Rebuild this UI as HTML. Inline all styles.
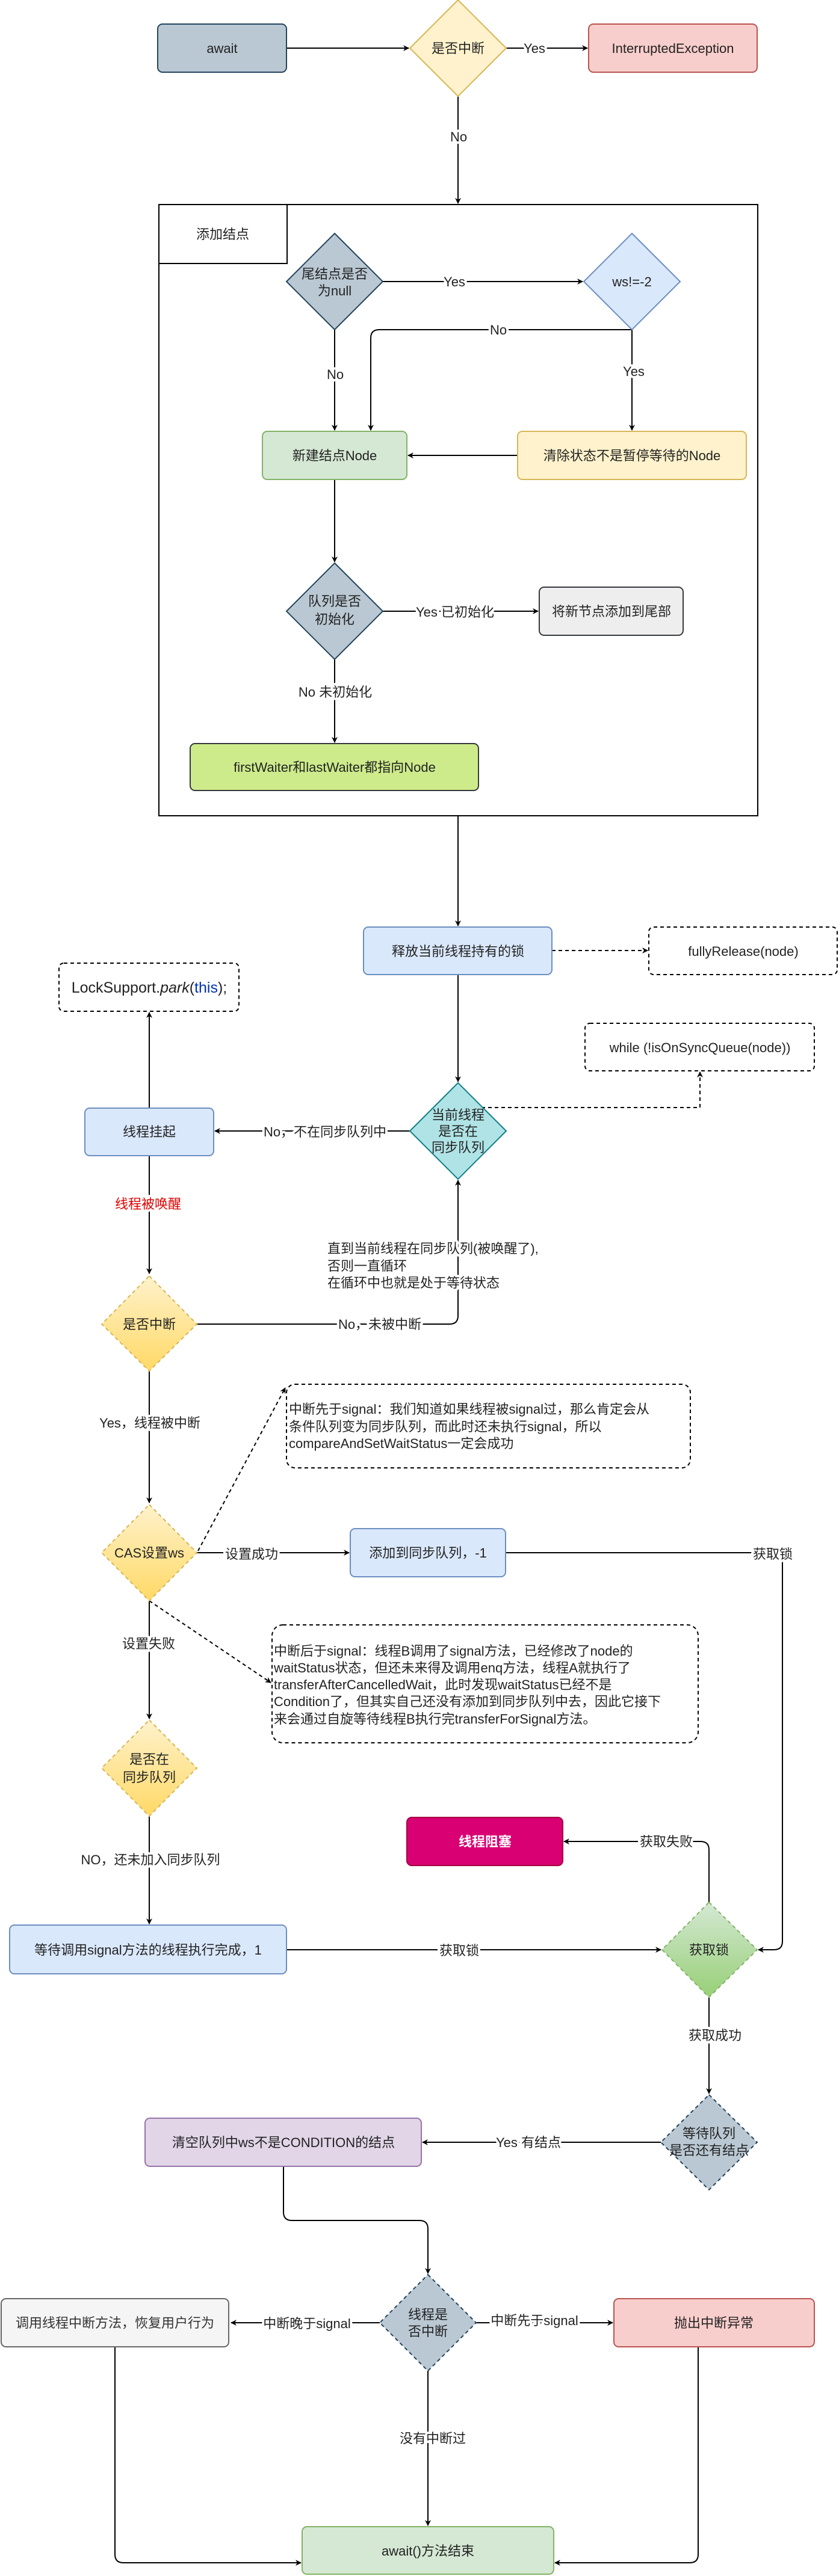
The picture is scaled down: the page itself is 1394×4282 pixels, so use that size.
<!DOCTYPE html>
<html><head><meta charset="utf-8"><style>
html,body{margin:0;padding:0;background:#fff;}
svg{display:block;}
text{font-family:"Liberation Sans","Noto Sans CJK SC",sans-serif;font-size:22px;fill:#222;}
.l{paint-order:stroke;stroke:#fff;stroke-width:8px;stroke-linejoin:round;}
</style></head><body>
<svg width="1394" height="4282" viewBox="0 0 1394 4282" xmlns="http://www.w3.org/2000/svg">
<defs>
<marker id="a" markerWidth="10" markerHeight="10" refX="9" refY="5" orient="auto" markerUnits="userSpaceOnUse"><path d="M0,0 L10,5 L0,10 L3,5 z" fill="#000"/></marker>
<linearGradient id="gy" x1="0" y1="0" x2="0" y2="1"><stop offset="0" stop-color="#fff2cc"/><stop offset="1" stop-color="#ffd966"/></linearGradient>
<linearGradient id="gg" x1="0" y1="0" x2="0" y2="1"><stop offset="0" stop-color="#d5e8d4"/><stop offset="1" stop-color="#97d077"/></linearGradient>
</defs>
<g fill="none" stroke="#000" stroke-width="2">
<path d="M476,80 H679" marker-end="url(#a)"/>
<path d="M841,80 H976" marker-end="url(#a)"/>
<path d="M761,160 V338" marker-end="url(#a)"/>
<path d="M636,468 H968" marker-end="url(#a)"/>
<path d="M1050,548 V715" marker-end="url(#a)"/>
<path d="M1050,548 H630 Q616,548 616,562 V715" marker-end="url(#a)"/>
<path d="M556,548 V715" marker-end="url(#a)"/>
<path d="M860,757 H678" marker-end="url(#a)"/>
<path d="M556,797 V934" marker-end="url(#a)"/>
<path d="M636,1016 H894" marker-end="url(#a)"/>
<path d="M556,1096 V1234" marker-end="url(#a)"/>
<path d="M761,1356 V1539" marker-end="url(#a)"/>
<path d="M917,1580 H1076" stroke-dasharray="6,5" marker-end="url(#a)"/>
<path d="M761,1620 V1798" marker-end="url(#a)"/>
<path d="M800,1841 H1163 V1782" stroke-dasharray="6,5" marker-end="url(#a)"/>
<path d="M681,1880 H357" marker-end="url(#a)"/>
<path d="M248,1842 V1683" marker-end="url(#a)"/>
<path d="M248,1921 V2117" marker-end="url(#a)"/>
<path d="M326,2201 H747 Q761,2201 761,2187 V1962" marker-end="url(#a)"/>
<path d="M248,2278 V2498" marker-end="url(#a)"/>
<path d="M329,2578 L474,2307" stroke-dasharray="6,5" marker-end="url(#a)"/>
<path d="M327,2581 H580" marker-end="url(#a)"/>
<path d="M840,2581 H1300 V3227 Q1300,3241 1286,3241 H1260" marker-end="url(#a)"/>
<path d="M248,2661 V2857" marker-end="url(#a)"/>
<path d="M248,2661 L450,2797" stroke-dasharray="6,5" marker-end="url(#a)"/>
<path d="M248,3019 V3198" marker-end="url(#a)"/>
<path d="M476,3241 H1098" marker-end="url(#a)"/>
<path d="M1178,3162 V3075 Q1178,3061 1164,3061 H937" marker-end="url(#a)"/>
<path d="M1178,3320 V3480" marker-end="url(#a)"/>
<path d="M1098,3561 H702" marker-end="url(#a)"/>
<path d="M471,3601 V3677 Q471,3691 485,3691 H697 Q711,3691 711,3705 V3779" marker-end="url(#a)"/>
<path d="M631,3861 H384" marker-end="url(#a)"/>
<path d="M791,3861 H1018" marker-end="url(#a)"/>
<path d="M711,3941 V4198" marker-end="url(#a)"/>
<path d="M191,3901 V4246 Q191,4260 205,4260 H500" marker-end="url(#a)"/>
<path d="M1160,3901 V4246 Q1160,4260 1146,4260 H922" marker-end="url(#a)"/>
</g>
<rect x="264" y="340" width="995" height="1016" fill="none" stroke="#000" stroke-width="2"/>
<rect x="264" y="340" width="213" height="98" fill="#fff" stroke="#000" stroke-width="2"/>
<text x="370" y="397" text-anchor="middle">添加结点</text>
<g stroke-width="2">
<rect x="262" y="40" width="214" height="80" rx="8" fill="#bac8d3" stroke="#23445d"/>
<polygon points="761,0 841,80 761,160 681,80" fill="#fff2cc" stroke="#d6b656"/>
<rect x="978" y="40" width="280" height="80" rx="8" fill="#f8cecc" stroke="#b85450"/>
<polygon points="556,388 636,468 556,548 476,468" fill="#bac8d3" stroke="#23445d"/>
<polygon points="1050,388 1130,468 1050,548 970,468" fill="#dae8fc" stroke="#6c8ebf"/>
<rect x="436" y="717" width="240" height="80" rx="8" fill="#d5e8d4" stroke="#82b366"/>
<rect x="860" y="717" width="380" height="80" rx="8" fill="#fff2cc" stroke="#d6b656"/>
<polygon points="556,936 636,1016 556,1096 476,1016" fill="#bac8d3" stroke="#23445d"/>
<rect x="896" y="976" width="239" height="80" rx="8" fill="#eeeeee" stroke="#36393d"/>
<rect x="316" y="1236" width="479" height="78" rx="8" fill="#cdeb8b" stroke="#36393d"/>
<rect x="604" y="1541" width="313" height="79" rx="8" fill="#dae8fc" stroke="#6c8ebf"/>
<rect x="1078" y="1541" width="313" height="79" rx="8" fill="#fff" stroke="#000" stroke-dasharray="6,5"/>
<rect x="972" y="1701" width="381" height="79" rx="8" fill="#fff" stroke="#000" stroke-dasharray="6,5"/>
<rect x="98" y="1601" width="299" height="80" rx="8" fill="#fff" stroke="#000" stroke-dasharray="6,5"/>
<polygon points="761,1800 841,1880 761,1960 681,1880" fill="#b0e3e6" stroke="#0e8088"/>
<rect x="141" y="1842" width="214" height="79" rx="8" fill="#dae8fc" stroke="#6c8ebf"/>
<polygon points="248,2121 327,2201 248,2279 169,2201" fill="url(#gy)" stroke="#d6b656" stroke-dasharray="6,5"/>
<polygon points="248,2501 327,2581 248,2661 169,2581" fill="url(#gy)" stroke="#d6b656" stroke-dasharray="6,5"/>
<rect x="476" y="2301" width="671" height="139" rx="14" fill="#fff" stroke="#000" stroke-dasharray="6,5"/>
<rect x="582" y="2541" width="258" height="80" rx="8" fill="#dae8fc" stroke="#6c8ebf"/>
<rect x="452" y="2701" width="708" height="196" rx="18" fill="#fff" stroke="#000" stroke-dasharray="6,5"/>
<polygon points="248,2859 327,2939 248,3019 169,2939" fill="url(#gy)" stroke="#d6b656" stroke-dasharray="6,5"/>
<rect x="16" y="3200" width="460" height="81" rx="8" fill="#dae8fc" stroke="#6c8ebf"/>
<polygon points="1178,3162 1258,3241 1178,3320 1100,3241" fill="url(#gg)" stroke="#82b366" stroke-dasharray="6,5"/>
<rect x="676" y="3021" width="259" height="80" rx="8" fill="#d80073" stroke="#a50040"/>
<polygon points="1178,3482 1258,3561 1178,3640 1098,3561" fill="#bac8d3" stroke="#23445d" stroke-dasharray="6,5"/>
<rect x="241" y="3521" width="459" height="80" rx="8" fill="#e1d5e7" stroke="#9673a6"/>
<polygon points="711,3781 791,3861 711,3941 631,3861" fill="#bac8d3" stroke="#23445d" stroke-dasharray="6,5"/>
<rect x="2" y="3821" width="378" height="80" rx="8" fill="#f5f5f5" stroke="#666666"/>
<rect x="1020" y="3821" width="333" height="80" rx="8" fill="#f8cecc" stroke="#b85450"/>
<rect x="502" y="4200" width="418" height="79" rx="8" fill="#d5e8d4" stroke="#82b366"/>
</g>
<g text-anchor="middle">
<text x="369" y="88">await</text>
<text x="761" y="88">是否中断</text>
<text x="1118" y="88">InterruptedException</text>
<text x="556" y="463">尾结点是否</text><text x="556" y="491">为null</text>
<text x="1050" y="476">ws!=-2</text>
<text x="556" y="765">新建结点Node</text>
<text x="1050" y="765">清除状态不是暂停等待的Node</text>
<text x="556" y="1007">队列是否</text><text x="556" y="1037">初始化</text>
<text x="1016" y="1024">将新节点添加到尾部</text>
<text x="556" y="1283">firstWaiter和lastWaiter都指向Node</text>
<text x="761" y="1589">释放当前线程持有的锁</text>
<text x="1235" y="1589">fullyRelease(node)</text>
<text x="1163" y="1749">while (!isOnSyncQueue(node))</text>
<text x="248" y="1650" style="font-size:25px">LockSupport.<tspan font-style="italic">park</tspan>(<tspan fill="#0033b3">this</tspan>);</text>
<text x="761" y="1861">当前线程</text><text x="761" y="1888">是否在</text><text x="761" y="1915">同步队列</text>
<text x="248" y="1889">线程挂起</text>
<text x="248" y="2209">是否中断</text>
<text x="248" y="2589">CAS设置ws</text>
<text x="711" y="2589">添加到同步队列，-1</text>
<text x="248" y="2932">是否在</text><text x="248" y="2962">同步队列</text>
<text x="246" y="3249">等待调用signal方法的线程执行完成，1</text>
<text x="1178" y="3249">获取锁</text>
<text x="806" y="3069" style="fill:#fff;font-weight:bold">线程阻塞</text>
<text x="1178" y="3554">等待队列</text><text x="1178" y="3582">是否还有结点</text>
<text x="471" y="3569">清空队列中ws不是CONDITION的结点</text>
<text x="711" y="3855">线程是</text><text x="711" y="3883">否中断</text>
<text x="191" y="3869" style="fill:#333">调用线程中断方法，恢复用户行为</text>
<text x="1186" y="3869">抛出中断异常</text>
<text x="711" y="4248">await()方法结束</text>
</g>
<g style="font-size:20.5px">
<text x="480" y="2350">中断先于signal：我们知道如果线程被signal过，那么肯定会从</text>
<text x="480" y="2379">条件队列变为同步队列，而此时还未执行signal，所以</text>
<text x="480" y="2407">compareAndSetWaitStatus一定会成功</text>
<text x="455" y="2752">中断后于signal：线程B调用了signal方法，已经修改了node的</text>
<text x="455" y="2780">waitStatus状态，但还未来得及调用enq方法，线程A就执行了</text>
<text x="455" y="2808">transferAfterCancelledWait，此时发现waitStatus已经不是</text>
<text x="455" y="2836">Condition了，但其实自己还没有添加到同步队列中去，因此它接下</text>
<text x="455" y="2865">来会通过自旋等待线程B执行完transferForSignal方法。</text>
</g>
<g text-anchor="middle">
<text class="l" x="888" y="88">Yes</text>
<text class="l" x="762" y="235">No</text>
<text class="l" x="755" y="476">Yes</text>
<text class="l" x="828" y="556">No</text>
<text class="l" x="1053" y="625">Yes</text>
<text class="l" x="557" y="630">No</text>
<text class="l" x="756" y="1025">Yes 已初始化</text>
<text class="l" x="557" y="1158">No 未初始化</text>
<text class="l" x="540" y="1889">No，不在同步队列中</text>
<text class="l" x="246" y="2009" style="fill:#e00000">线程被唤醒</text>
<text class="l" x="631" y="2209">No，未被中断</text>
<text class="l" x="249" y="2373">Yes，线程被中断</text>
<text class="l" x="418" y="2591">设置成功</text>
<text class="l" x="1284" y="2591">获取锁</text>
<text class="l" x="247" y="2740">设置失败</text>
<text class="l" x="250" y="3099">NO，还未加入同步队列</text>
<text class="l" x="763" y="3250">获取锁</text>
<text class="l" x="1107" y="3069">获取失败</text>
<text class="l" x="1188" y="3391">获取成功</text>
<text class="l" x="878" y="3569">Yes  有结点</text>
<text class="l" x="510" y="3870">中断晚于signal</text>
<text class="l" x="888" y="3865">中断先于signal</text>
<text class="l" x="719" y="4061">没有中断过</text>
</g>
<g>
<text class="l" x="544" y="2083">直到当前线程在同步队列(被唤醒了),</text>
<text class="l" x="544" y="2112">否则一直循环</text>
<text class="l" x="544" y="2140">在循环中也就是处于等待状态</text>
</g>
</svg>
</body></html>
